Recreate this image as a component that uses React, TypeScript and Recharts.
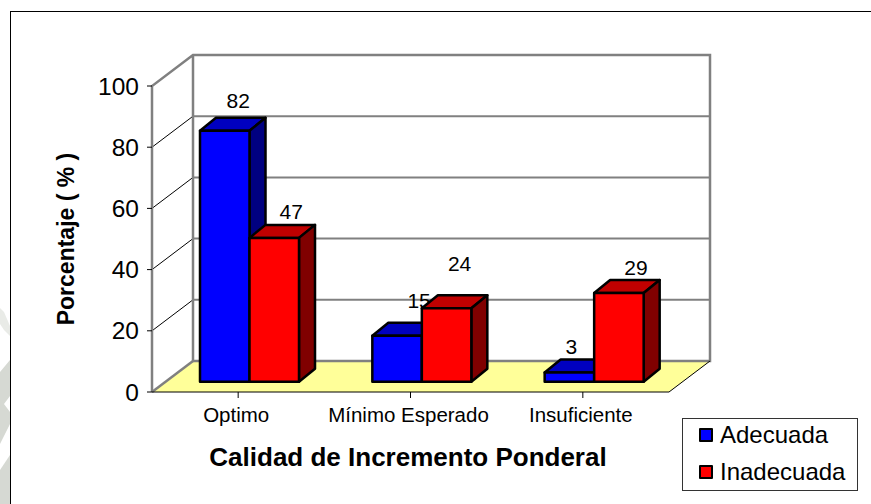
import { BarChart, Bar, XAxis, YAxis, CartesianGrid, Legend, ReferenceArea } from 'recharts'

const categories = ['Optimo', 'Mínimo Esperado', 'Insuficiente']
const adecuada = [82, 15, 3]
const inadecuada = [47, 24, 29]
const yTicks = [0, 20, 40, 60, 80, 100]

const data = categories.map((name, i) => ({ name, adecuada: adecuada[i], inadecuada: inadecuada[i] }))

// box depth of the whole plot and of each bar
const WALL_DX = 41
const WALL_DY = -31
const BAR_DX = 16
const BAR_DY = -13
const BAR_SHIFT_X = 11
const BAR_SHIFT_Y = -10.3

const BLUE = { front: '#0000ff', top: '#0000c0', side: '#000080' }
const RED = { front: '#ff0000', top: '#c00000', side: '#800000' }

// the labels were dragged by hand in the original
const BLUE_NUDGE = [[13.5, -30], [22, -35], [2, -26]]
const RED_NUDGE = [[17, -26], [13, -45], [17, -25]]

function pts(list: number[][]) {
  return list.map((p) => p.join(',')).join(' ')
}

function Bar3D(props: any) {
  const { x, y, width, height, index, value, colors, nudge } = props
  const l = x + BAR_SHIFT_X
  const r = l + width
  const t = y + BAR_SHIFT_Y
  const b = t + height
  const v = Array.isArray(value) ? value[1] : value
  return (
    <g>
      <text
        x={l + width / 2 + nudge[index][0]}
        y={t + nudge[index][1]}
        textAnchor="middle"
        dominantBaseline="central"
        fontSize={21}
        fill="#000"
      >
        {v}
      </text>
      <g stroke="#000" strokeWidth={2.5} strokeLinejoin="round">
        <polygon points={pts([[l, t], [l + BAR_DX, t + BAR_DY], [r + BAR_DX, t + BAR_DY], [r, t]])} fill={colors.top} />
        <polygon points={pts([[r, t], [r + BAR_DX, t + BAR_DY], [r + BAR_DX, b + BAR_DY], [r, b]])} fill={colors.side} />
        <rect x={l} y={t} width={width} height={height} fill={colors.front} />
      </g>
    </g>
  )
}

function Walls(props: any) {
  const { x, y, width, height } = props
  const r = x + width
  const b = y + height
  return (
    <g>
      <polygon points={pts([[x, b], [x + WALL_DX, b + WALL_DY], [r + WALL_DX, b + WALL_DY], [r, b]])} fill="#ffff99" />
      <g fill="none" stroke="#808080" strokeWidth={2.5}>
        <polyline points={pts([[x, b], [x, y], [x + WALL_DX, y + WALL_DY], [r + WALL_DX, y + WALL_DY], [r + WALL_DX, b + WALL_DY], [x + WALL_DX, b + WALL_DY], [x + WALL_DX, y + WALL_DY]])} />
        <line x1={x} y1={b} x2={x + WALL_DX} y2={b + WALL_DY} />
      </g>
      <line x1={r} y1={b} x2={r + WALL_DX} y2={b + WALL_DY} stroke="#000" strokeWidth={1} />
    </g>
  )
}

function GridLine(props: any) {
  const { x1, x2, y1 } = props
  // top and bottom are already drawn by the walls
  return (
    <g>
      <line x1={x1} y1={y1} x2={x1 + WALL_DX} y2={y1 + WALL_DY} stroke="#000" strokeWidth={1} />
      <line x1={x1 + WALL_DX} y1={y1 + WALL_DY} x2={x2 + WALL_DX} y2={y1 + WALL_DY} stroke="#808080" strokeWidth={2} />
    </g>
  )
}

function YTitle(props: any) {
  const { viewBox } = props
  const cx = viewBox.x - 26
  const cy = viewBox.y + viewBox.height / 2
  return (
    <text
      x={cx}
      y={cy}
      transform={`rotate(-90 ${cx} ${cy})`}
      textAnchor="middle"
      dominantBaseline="central"
      fontSize={23}
      fontWeight={700}
      fill="#000"
    >
      Porcentaje ( % )
    </text>
  )
}

function LegendBox() {
  const rows = [
    { label: 'Adecuada', color: BLUE.front },
    { label: 'Inadecuada', color: RED.front },
  ]
  return (
    <div style={{ width: 176, height: 73, boxSizing: 'border-box', border: '1px solid #333', background: '#fff', overflow: 'hidden' }}>
      {rows.map((row, i) => (
        <div key={row.label} style={{ display: 'flex', alignItems: 'center', height: 37, marginTop: i === 0 ? -3 : 0, paddingLeft: 16 }}>
          <span style={{ width: 10, height: 10, background: row.color, border: '2px solid #000', borderRadius: 1, marginRight: 7 }} />
          <span style={{ fontSize: 24, fontFamily: 'Liberation Sans', color: '#000' }}>{row.label}</span>
        </div>
      ))}
    </div>
  )
}

// faint remains of a watermark along the left edge of the page
function Watermark() {
  return (
    <svg width={10} height={504} style={{ position: 'absolute', left: 0, top: 0 }}>
      <g fill="#d6d9d3">
        <polygon points="0,308 4,312 10,326 10,336 4,330 0,324" fill="#e9ebe7" />
        <polygon points="0,372 10,360 10,396 4,404 10,412 10,424 4,436 0,444" />
        <polygon points="0,470 10,455 10,504 0,504" />
      </g>
    </svg>
  )
}

export default function App() {
  return (
    <div style={{ position: 'absolute', left: 0, top: 0, width: 871, height: 504, overflow: 'hidden', background: '#fff', fontFamily: 'Liberation Sans, Arial, sans-serif' }}>
      <Watermark />
      <div style={{ position: 'absolute', left: 10, top: 11, width: 900, height: 600, border: '1.5px solid #000', boxSizing: 'border-box' }} />
      <div style={{ position: 'absolute', left: 0, top: 0 }}>
        <BarChart
          width={871}
          height={504}
          data={data}
          margin={{ top: 86, right: 202, bottom: 0, left: 92 }}
          barSize={49.5}
          barGap={0}
        >
          <ReferenceArea y1={0} y2={100} shape={<Walls />} ifOverflow="visible" />
          <CartesianGrid vertical={false} horizontal={(p: any) => <GridLine {...p} />} horizontalValues={[20, 40, 60, 80]} />
          <XAxis
            dataKey="name"
            height={112}
            tick={{ fontSize: 20.5, fill: '#000', dx: -2, dy: 7 }}
            tickLine={{ stroke: '#000' }}
            tickSize={6}
            axisLine={{ stroke: '#000' }}
            interval={0}
            label={{ value: 'Calidad de Incremento Ponderal', position: 'insideTop', offset: 56, fontSize: 26, fontWeight: 700, fill: '#000', dx: -2.5 }}
          />
          <YAxis
            width={60}
            domain={[0, 100]}
            ticks={yTicks}
            tick={{ fontSize: 24.5, fill: '#000' }}
            tickLine={{ stroke: '#000' }}
            tickSize={5}
            tickMargin={8}
            axisLine={false}
            label={<YTitle />}
          />
          <Legend
            layout="vertical"
            align="center"
            verticalAlign="middle"
            content={() => <LegendBox />}
            wrapperStyle={{ left: 682, top: 418, width: 176 }}
          />
          <Bar dataKey="adecuada" isAnimationActive={false} shape={<Bar3D colors={BLUE} nudge={BLUE_NUDGE} />} />
          <Bar dataKey="inadecuada" isAnimationActive={false} shape={<Bar3D colors={RED} nudge={RED_NUDGE} />} />
        </BarChart>
      </div>
    </div>
  )
}
